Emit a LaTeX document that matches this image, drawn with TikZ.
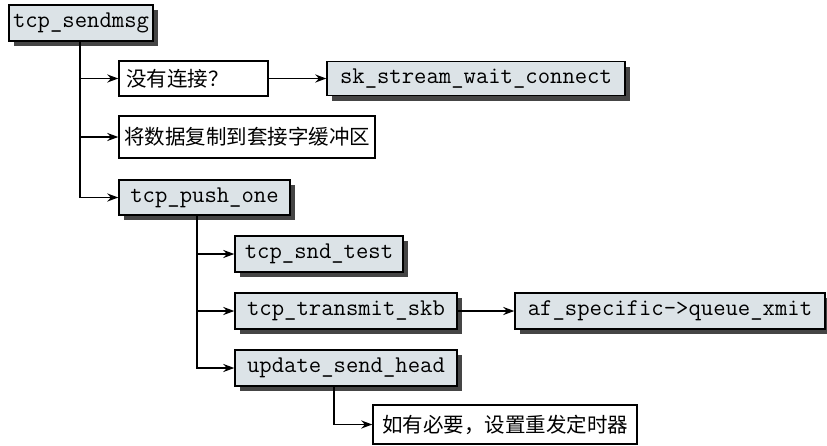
\documentclass[tikz,border=0pt]{standalone}
\usepackage{fontspec}
\newfontfamily\cjk{Noto Sans CJK SC}
\usetikzlibrary{arrows.meta,shadows}
\definecolor{boxfill}{HTML}{DCE3E7}
\definecolor{shadowc}{HTML}{454545}
\tikzset{
  fnbox/.style={draw=black, line width=1.4pt, fill=boxfill, inner sep=0pt,
    font=\ttfamily\fontsize{24}{26}\selectfont,
    drop shadow={shadow xshift=5pt, shadow yshift=-5pt, fill=shadowc, opacity=1}},
  txtbox/.style={draw=black, line width=1.4pt, fill=white, inner sep=0pt,
    font=\cjk\fontsize{20.5}{24}\selectfont},
  arr/.style={line width=1.7pt, -{Stealth[length=11pt,width=8pt]}},
}
\begin{document}
\begin{tikzpicture}[x=1pt,y=-1pt]
\useasboundingbox (0,0) rectangle (827,445);
\node[fnbox, minimum width=144pt, minimum height=36pt] (sendmsg) at (81,23) {tcp\_sendmsg};
\node[txtbox, minimum width=149pt, minimum height=35pt, text width=135pt, align=left] (noconn) at (193.5,78.5) {没有连接？};
\node[fnbox, minimum width=298pt, minimum height=34pt] (skwait) at (476,78.5) {sk\_stream\_wait\_connect};
\node[txtbox, minimum width=256pt, minimum height=42pt] (copy) at (247,137) {将数据复制到套接字缓冲区};
\node[fnbox, minimum width=171pt, minimum height=35pt] (pushone) at (204.5,197.5) {tcp\_push\_one};
\node[fnbox, minimum width=168pt, minimum height=36pt] (sndtest) at (319,254) {tcp\_snd\_test};
\node[fnbox, minimum width=222pt, minimum height=36pt] (transmit) at (346,311) {tcp\_transmit\_skb};
\node[fnbox, minimum width=310pt, minimum height=36pt] (afspec) at (670,311) {af\_specific->queue\_xmit};
\node[fnbox, minimum width=222pt, minimum height=36pt] (update) at (346,368) {update\_send\_head};
\node[txtbox, minimum width=264pt, minimum height=39pt] (timer) at (505,424.5) {如有必要，设置重发定时器};

\coordinate (t1) at ([xshift=-1pt]sendmsg.south);
\coordinate (t2) at ([xshift=-7.5pt]pushone.south);
\coordinate (t3) at ([xshift=-12pt]update.south);

\draw[arr] (t1) |- (noconn.west);
\draw[arr] (t1) |- (copy.west);
\draw[arr] (t1) |- (pushone.west);
\draw[arr] (noconn.east) -- (skwait.west);
\draw[arr] (t2) |- (sndtest.west);
\draw[arr] (t2) |- (transmit.west);
\draw[arr] (t2) |- (update.west);
\draw[arr] (transmit.east) -- (afspec.west);
\draw[arr] (t3) |- (timer.west);
\end{tikzpicture}
\end{document}
